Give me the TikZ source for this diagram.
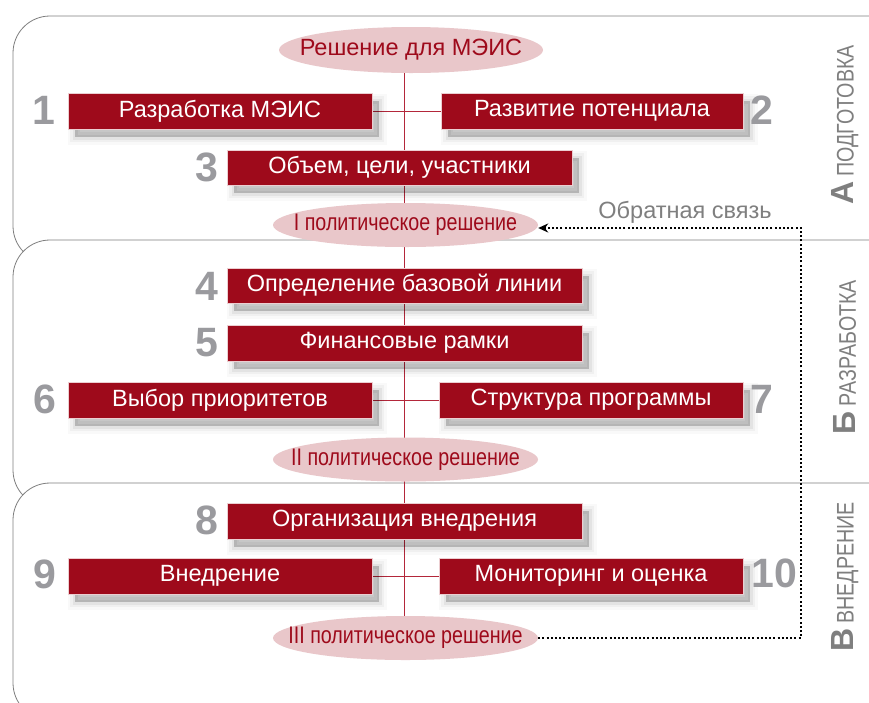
\documentclass[tikz,border=0pt]{standalone}
\usepackage{fontspec}
\setmainfont{Liberation Sans}
\newfontfamily\narrowfont[FakeStretch=0.82]{Liberation Sans}
\usetikzlibrary{arrows.meta, shapes.geometric}

\definecolor{boxred}{HTML}{9E0A1B}
\definecolor{decpink}{HTML}{E9C7CA}
\definecolor{numgray}{HTML}{9A9A9E}
\definecolor{linegray}{HTML}{7F7F7F}
\definecolor{spinered}{HTML}{B3273A}

\pgfdeclarelayer{panels}
\pgfdeclarelayer{links}
\pgfsetlayers{panels,links,main}

\tikzset{
  panel/.style={draw=linegray, fill=white, line width=0.8pt, rounded corners=37pt},
  softshadow/.style={
    preaction={fill=black, draw=black, line width=15pt, opacity=.025, transform canvas={shift={(7pt,-8pt)}}},
    preaction={fill=black, draw=black, line width=10pt, opacity=.035, transform canvas={shift={(7pt,-8pt)}}},
    preaction={fill=black, draw=black, line width=5pt, opacity=.05, transform canvas={shift={(7pt,-8pt)}}},
    preaction={fill=black, opacity=.1, transform canvas={shift={(7pt,-8pt)}}}},
  stage/.style={rectangle, fill=boxred, draw=boxred!20, line width=0.8pt, text=white,
    inner sep=0pt, minimum height=36pt, font=\fontsize{23.5}{26}\selectfont, softshadow},
  decision/.style={ellipse, fill=decpink, text=boxred, inner sep=0pt,
    minimum width=265pt, minimum height=44pt, font=\narrowfont\fontsize{24}{26}\selectfont},
  stepnum/.style={text=numgray, inner sep=0pt, font=\fontsize{41}{41}\selectfont\bfseries},
  phase/.style={rotate=90, text=linegray, inner sep=0pt},
  spine/.style={draw=spinered, line width=0.7pt},
  feedback/.style={line width=2pt, dash pattern=on 2pt off 2.2pt, -{Stealth[length=10pt,width=9pt]}}
}

\begin{document}
\begin{tikzpicture}[x=1pt, y=1pt, yscale=-1]
\useasboundingbox (0,0) rectangle (869,702);
%Panels
\begin{pgfonlayer}{panels}
\clip (0,0) rectangle (869,702);
\draw [panel] (13,16) rectangle (930,263);
\draw [panel] (13,240) rectangle (930,507);
\draw [panel] (13,483) rectangle (930,720);
\end{pgfonlayer}
%Stages
\node [stage, minimum width=304pt] (b1) at (220,111) {Разработка МЭИС};
\node [stage, minimum width=302pt] (b2) at (592,111) {Развитие потенциала};
\node [stage, minimum width=345pt, minimum height=35pt] (b3) at (399.5,167.5) {Объем, цели, участники};
\node [stage, minimum width=355pt, minimum height=35pt] (b4) at (404.5,285.5) {Определение базовой линии};
\node [stage, minimum width=355pt] (b5) at (404.5,343) {Финансовые рамки};
\node [stage, minimum width=304pt] (b6) at (220,400) {Выбор приоритетов};
\node [stage, minimum width=304pt] (b7) at (591,400) {Структура программы};
\node [stage, minimum width=355pt] (b8) at (404.5,521) {Организация внедрения};
\node [stage, minimum width=304pt] (b9) at (220,576) {Внедрение};
\node [stage, minimum width=304pt] (b10) at (591,576) {Мониторинг и оценка};
%Decisions
\node [decision, minimum width=264pt, minimum height=46pt, font=\fontsize{23.5}{26}\selectfont] (d0) at (411,50) {\makebox[0pt]{Решение для МЭИС}};
\node [decision] (d1) at (405.5,225) {\makebox[0pt]{I политическое решение}};
\node [decision] (d2) at (405.5,459.5) {\makebox[0pt]{II политическое решение}};
\node [decision] (d3) at (405.5,638) {\makebox[0pt]{III политическое решение}};
%Numbers
\node [stepnum] (n1) at (44,110) {1};
\node [stepnum] (n2) at (762,110) {2};
\node [stepnum] (n3) at (207,167) {3};
\node [stepnum] (n4) at (207,286) {4};
\node [stepnum] (n5) at (207,343) {5};
\node [stepnum] (n6) at (45,399) {6};
\node [stepnum] (n7) at (762,399) {7};
\node [stepnum] (n8) at (207,520) {8};
\node [stepnum] (n9) at (45,574) {9};
\node [stepnum] (n10) at (774,573) {10};
%Phases
\node [phase] (pa) at (845,125) {{\fontsize{32}{32}\selectfont\bfseries А}\hspace{5pt}{\narrowfont\fontsize{24}{24}\selectfont ПОДГОТОВКА}};
\node [phase] (pb) at (845,357) {{\fontsize{32}{32}\selectfont\bfseries Б}\hspace{5pt}{\narrowfont\fontsize{24}{24}\selectfont РАЗРАБОТКА}};
\node [phase] (pc) at (845,577) {{\fontsize{32}{32}\selectfont\bfseries В}\hspace{5pt}{\narrowfont\fontsize{24}{24}\selectfont ВНЕДРЕНИЕ}};
%Links
\coordinate (axis) at (404,0);
\coordinate (fbx) at (801,0);
\begin{pgfonlayer}{links}
\draw [spine] (d0.south -| axis) -- (d3.north -| axis);
\draw [spine] (b1) -- (b2);
\draw [spine] (b6) -- (b7);
\draw [spine] (b9) -- (b10);
\end{pgfonlayer}
%Feedback
\draw [feedback] (d3.east) -- (d3.east -| fbx) |- ([yshift=3pt]d1.east);
\node [text=linegray, inner sep=0pt, font=\fontsize{23.5}{26}\selectfont] (fbl) at (685,212) {Обратная связь};
\end{tikzpicture}
\end{document}
